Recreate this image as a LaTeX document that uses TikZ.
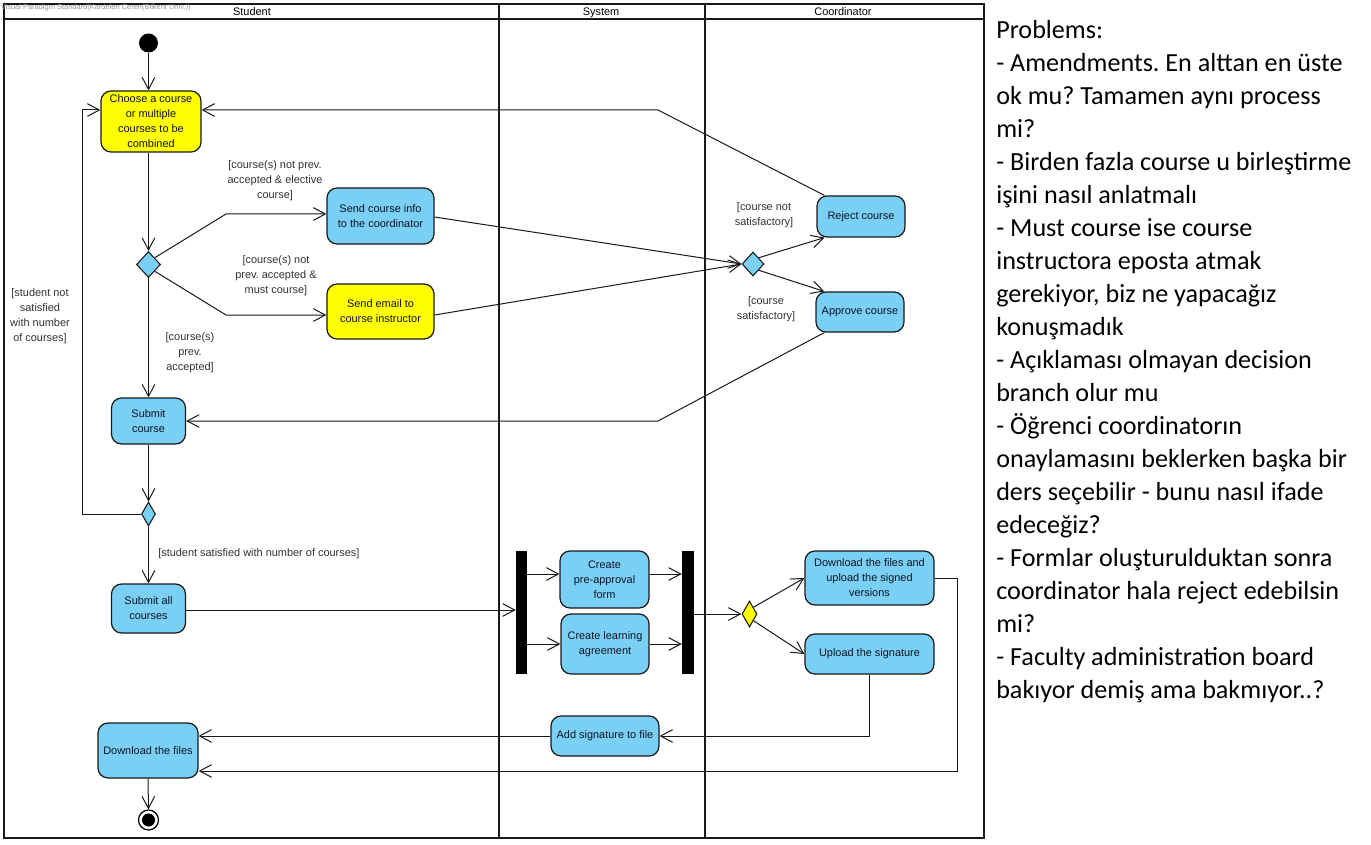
\documentclass[tikz,border=0pt]{standalone}
\usepackage{fontspec}
\setmainfont{Liberation Sans}
\newfontfamily\carlfont{Carlito}
\usetikzlibrary{arrows.meta,shapes.geometric}
\definecolor{actblue}{RGB}{122,207,245}
\definecolor{actyel}{RGB}{255,255,0}
\definecolor{edgec}{RGB}{25,25,25}
\definecolor{txtc}{RGB}{15,20,35}
\definecolor{lblc}{RGB}{50,50,50}
\definecolor{wmark}{RGB}{150,150,150}
\newcommand\dgfont{\fontsize{8.2}{11.25}\selectfont}
\newcommand\notefont{\carlfont\fontsize{19.6}{24.75}\selectfont}
\frenchspacing
\begin{document}
\begin{tikzpicture}[x=0.75pt,y=-0.75pt,
  act/.style={draw=edgec, line width=0.9pt, rounded corners=7.5pt, fill=actblue,
    align=center, inner sep=1pt, font=\dgfont, text=txtc},
  yact/.style={act, fill=actyel},
  dec/.style={diamond, draw=edgec, line width=0.8pt, fill=actblue, inner sep=0pt},
  syncbar/.style={rectangle, fill=black, draw=none, inner sep=0pt, minimum height=92.25pt},
  lbl/.style={align=center, font=\dgfont, text=lblc, inner sep=0pt},
  lane/.style={draw=edgec, line width=1.5pt},
  hdr/.style={font=\dgfont, inner sep=0pt, anchor=base},
  flow/.style={draw=edgec, line width=0.75pt,
    -{Straight Barb[length=9pt,width=9.5pt,line width=0.75pt]}},
  note/.style={anchor=base west, font=\notefont, inner sep=0pt, text=black},
]
\useasboundingbox (0,0) rectangle (1371,845);
\fill[white] (0,0) rectangle (1371,845);

% swimlanes
\draw[lane] (4,4) rectangle (984,838);
\draw[draw=edgec, line width=1.2pt] (4,19) -- (984,19);
\draw[lane] (499,4) -- (499,838);
\draw[lane] (705,4) -- (705,838);
\node[hdr] (hstudent) at (252,15.5) {Student};
\node[hdr] (hsystem) at (601,15.5) {System};
\node[hdr] (hcoord) at (843,15.5) {Coordinator};
\node[anchor=base west, font=\fontsize{5.6}{7}\selectfont, text=wmark, inner sep=0pt] (wm) at (0.5,9.5)
  {Visual Paradigm Standard(Kardelen Ceren(Bilkent Univ.))};

% nodes
\node[circle, fill=black, inner sep=0pt, minimum size=14.25pt] (init) at (148.5,43) {};
\node[yact, minimum width=75pt, minimum height=45.75pt] (choose) at (151,121.5)
  {Choose a course\\or multiple\\courses to be\\combined};
\node[dec, minimum width=18pt, minimum height=19.5pt] (d1) at (148.5,264.5) {};
\node[act, minimum width=80.25pt, minimum height=42pt] (sendinfo) at (380.5,216)
  {Send course info\\to the coordinator};
\node[yact, minimum width=80.25pt, minimum height=41.25pt] (sendemail) at (380.5,311.5)
  {Send email to\\course instructor};
\node[dec, minimum width=16.5pt, minimum height=18pt] (d2) at (753,264) {};
\node[act, minimum width=66pt, minimum height=30.75pt] (reject) at (861,216.5) {Reject course};
\node[act, minimum width=66pt, minimum height=30pt] (approve) at (860,312) {Approve course};
\node[act, minimum width=55.5pt, minimum height=34.5pt] (submitc) at (148.5,421) {Submit\\course};
\node[dec, minimum width=10.5pt, minimum height=18pt] (d3) at (148.5,514) {};
\node[act, minimum width=55.5pt, minimum height=36.75pt] (submitall) at (148.5,608.5) {Submit all\\courses};
\node[syncbar, minimum width=8.25pt] (fork1) at (521.5,612.5) {};
\node[act, minimum width=66.75pt, minimum height=42.75pt] (preapp) at (604.5,579.5)
  {Create\\pre-approval\\form};
\node[act, minimum width=66pt, minimum height=45pt] (learn) at (605,644)
  {Create learning\\agreement};
\node[syncbar, minimum width=9pt] (join) at (688,612.5) {};
\node[dec, fill=actyel, minimum width=11.25pt, minimum height=19.5pt] (d4) at (749.5,614) {};
\node[act, minimum width=96.75pt, minimum height=40.5pt] (dlup) at (869.5,578)
  {Download the files and\\upload the signed\\versions};
\node[act, minimum width=96.75pt, minimum height=30pt] (upsig) at (869.5,654) {Upload the signature};
\node[act, minimum width=81pt, minimum height=30pt] (addsig) at (605,736) {Add signature to file};
\node[act, minimum width=75pt, minimum height=41.25pt] (dlfiles) at (148,750.5) {Download the files};
\node[circle, draw=black, line width=0.9pt, fill=white, inner sep=0pt, minimum size=15pt] (final) at (148.5,820) {};
\fill[black] (final.center) circle [radius=4.9pt];

% guard labels
\node[lbl] (l1) at (275,181) {[course(s) not prev.\\accepted \& elective\\course]};
\node[lbl] (l2) at (276,276) {[course(s) not\\prev. accepted \&\\must course]};
\node[lbl] (l3) at (190,353) {[course(s)\\prev.\\accepted]};
\node[lbl] (l4) at (764,215.5) {[course not\\satisfactory]};
\node[lbl] (l5) at (766,309.5) {[course\\satisfactory]};
\node[lbl] (l6) at (40,316.5) {[student not\\satisfied\\with number\\of courses]};
\node[lbl, anchor=west] (l7) at (158,554) {[student satisfied with number of courses]};

% connectors
\draw[flow] (init) -- (choose.north -| init);
\draw[flow] (choose.south -| d1) -- (d1.north);
\draw[flow] (d1.north east) -- (226,214) -- (sendinfo.west |- 0,214);
\draw[flow] (d1.south east) -- (226,315) -- (sendemail.west |- 0,315);
\draw[flow] (d1.south) -- (submitc.north);
\draw[flow] (sendinfo.east |- 0,217) -- (d2.west);
\draw[flow] (sendemail.east |- 0,315) -- (d2.west);
\draw[flow] (d2.north east) -- (reject.210);
\draw[flow] (d2.south east) -- (approve.150);
\draw[flow] (reject.150) -- (658,110) -- (choose.east |- 0,110);
\draw[flow] (approve.210) -- (658,421) -- (submitc.east);
\draw[flow] (submitc.south) -- (d3.north);
\draw[flow] (d3.west) -- (82,514) -- (82,110) -- (choose.west |- 0,110);
\draw[flow] (d3.south) -- (submitall.north);
\draw[flow] (submitall.east |- 0,610) -- (fork1.west |- 0,610);
\draw[flow] (fork1.east |- 0,574) -- (preapp.west |- 0,574);
\draw[flow] (fork1.east |- learn.west) -- (learn.west);
\draw[flow] (preapp.east |- 0,574) -- (join.west |- 0,574);
\draw[flow] (learn.east) -- (learn.east -| join.west);
\draw[flow] (join.east |- d4.west) -- (d4.west);
\draw[flow] (d4.north east) -- (dlup.west);
\draw[flow] (d4.south east) -- (upsig.west);
\draw[flow] (upsig.south) -- (upsig.south |- addsig.east) -- (addsig.east);
\draw[flow] (addsig.west) -- (addsig.west -| dlfiles.east);
\draw[flow] (dlup.east) -- (957,578) -- (957,771) -- (dlfiles.east |- 0,771);
\draw[flow] (dlfiles.south) -- (final.north);

% notes on the right
\node[note] (t0) at (996,39) {Problems:};
\node[note] (t1) at (996,71.95) {- Amendments. En alttan en üste};
\node[note] (t2) at (996,104.9) {ok mu? Tamamen aynı process};
\node[note] (t3) at (996,137.85) {mi?};
\node[note] (t4) at (996,170.8) {- Birden fazla course u birleştirme};
\node[note] (t5) at (996,203.75) {işini nasıl anlatmalı};
\node[note] (t6) at (996,236.7) {- Must course ise course};
\node[note] (t7) at (996,269.65) {instructora eposta atmak};
\node[note] (t8) at (996,302.6) {gerekiyor, biz ne yapacağız};
\node[note] (t9) at (996,335.55) {konuşmadık};
\node[note] (t10) at (996,368.5) {- Açıklaması olmayan decision};
\node[note] (t11) at (996,401.45) {branch olur mu};
\node[note] (t12) at (996,434.4) {- Öğrenci coordinatorın};
\node[note] (t13) at (996,467.35) {onaylamasını beklerken başka bir};
\node[note] (t14) at (996,500.3) {ders seçebilir - bunu nasıl ifade};
\node[note] (t15) at (996,533.25) {edeceğiz?};
\node[note] (t16) at (996,566.2) {- Formlar oluşturulduktan sonra};
\node[note] (t17) at (996,599.15) {coordinator hala reject edebilsin};
\node[note] (t18) at (996,632.1) {mi?};
\node[note] (t19) at (996,665.05) {- Faculty administration board};
\node[note] (t20) at (996,698) {bakıyor demiş ama bakmıyor..?};
\end{tikzpicture}
\end{document}
